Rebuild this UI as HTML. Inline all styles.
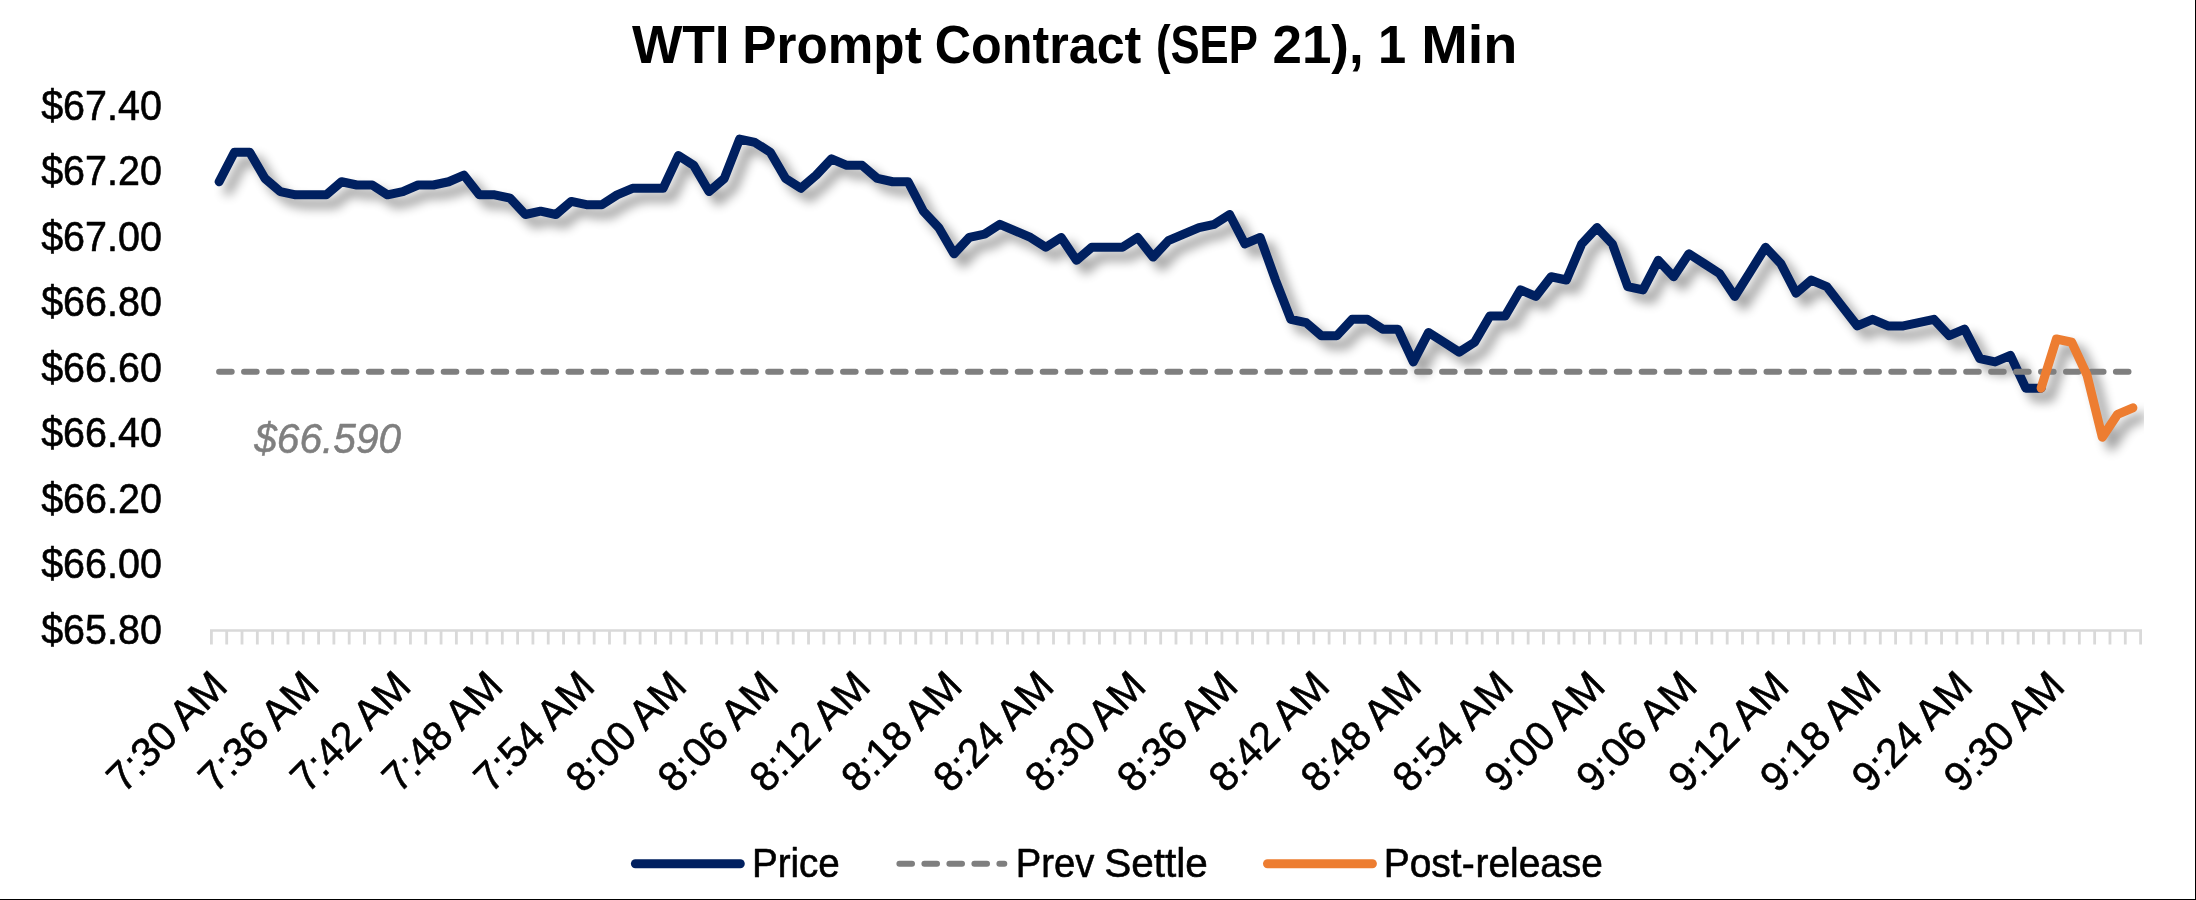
<!DOCTYPE html>
<html><head><meta charset="utf-8">
<style>
html,body{margin:0;padding:0;background:#fff;}
body{width:2196px;height:900px;overflow:hidden;position:relative;}
svg{position:absolute;left:0;top:0;display:block;will-change:transform;}
text{font-family:"Liberation Sans",sans-serif;fill:#000;}
.lab,.leg,.xl{stroke:#000;stroke-width:0.6px;stroke-linejoin:round;}
.ann{stroke:#7f7f7f;stroke-width:0.5px;stroke-linejoin:round;}
.lab{font-size:42.1px;}
.xl{font-size:41.5px;}
.title{font-size:53.6px;font-weight:bold;}
.leg{font-size:40.6px;}
.ann{font-size:42.1px;font-style:italic;fill:#7f7f7f;}
</style></head>
<body>
<svg width="2196" height="900" viewBox="0 0 2196 900">
<defs>
<filter id="sh" filterUnits="userSpaceOnUse" x="0" y="0" width="2196" height="900" color-interpolation-filters="sRGB">
<feGaussianBlur in="SourceAlpha" stdDeviation="5.5" result="b"/>
<feOffset in="b" dx="8.5" dy="8.5" result="o"/>
<feComponentTransfer in="o"><feFuncA type="linear" slope="0.4"/></feComponentTransfer>
</filter>
<clipPath id="plot"><rect x="200" y="80" width="1944" height="560"/></clipPath>
</defs>
<rect x="0" y="0" width="2196" height="900" fill="#fff"/>
<text x="41.13" y="119.5" class="lab" textLength="120.71" lengthAdjust="spacingAndGlyphs">$67.40</text>
<text x="41.13" y="185.0" class="lab" textLength="120.71" lengthAdjust="spacingAndGlyphs">$67.20</text>
<text x="41.13" y="250.5" class="lab" textLength="120.71" lengthAdjust="spacingAndGlyphs">$67.00</text>
<text x="41.13" y="316.1" class="lab" textLength="120.71" lengthAdjust="spacingAndGlyphs">$66.80</text>
<text x="41.13" y="381.6" class="lab" textLength="120.71" lengthAdjust="spacingAndGlyphs">$66.60</text>
<text x="41.13" y="447.1" class="lab" textLength="120.71" lengthAdjust="spacingAndGlyphs">$66.40</text>
<text x="41.13" y="512.6" class="lab" textLength="120.71" lengthAdjust="spacingAndGlyphs">$66.20</text>
<text x="41.13" y="578.1" class="lab" textLength="120.71" lengthAdjust="spacingAndGlyphs">$66.00</text>
<text x="41.13" y="643.7" class="lab" textLength="120.71" lengthAdjust="spacingAndGlyphs">$65.80</text>
<text x="631.90" y="63.1" class="title" textLength="97.80" lengthAdjust="spacingAndGlyphs">WTI</text>
<text x="742.35" y="63.1" class="title" textLength="179.40" lengthAdjust="spacingAndGlyphs">Prompt</text>
<text x="934.79" y="63.1" class="title" textLength="206.57" lengthAdjust="spacingAndGlyphs">Contract</text>
<text x="1155.96" y="63.1" class="title" textLength="101.84" lengthAdjust="spacingAndGlyphs">(SEP</text>
<text x="1272.47" y="63.1" class="title" textLength="91.19" lengthAdjust="spacingAndGlyphs">21),</text>
<text x="1377.99" y="63.1" class="title" textLength="28.19" lengthAdjust="spacingAndGlyphs">1</text>
<text x="1421.15" y="63.1" class="title" textLength="96.27" lengthAdjust="spacingAndGlyphs">Min</text>
<text x="254.24" y="453.4" class="ann" textLength="146.97" lengthAdjust="spacingAndGlyphs">$66.590</text>
<text x="751.91" y="876.8" class="leg" textLength="87.91" lengthAdjust="spacingAndGlyphs">Price</text>
<text x="1015.74" y="876.8" class="leg" textLength="78.64" lengthAdjust="spacingAndGlyphs">Prev</text>
<text x="1104.21" y="876.8" class="leg" textLength="103.45" lengthAdjust="spacingAndGlyphs">Settle</text>
<text x="1383.68" y="876.8" class="leg" textLength="90.97" lengthAdjust="spacingAndGlyphs">Post-</text>
<text x="1475.57" y="876.8" class="leg" textLength="127.29" lengthAdjust="spacingAndGlyphs">release</text>
<path d="M210.0 630.5 H2142.0" stroke="#d9d9d9" stroke-width="2.7" fill="none"/>
<path d="M211.40 630.5 V644.4 M226.71 630.5 V644.4 M242.02 630.5 V644.4 M257.33 630.5 V644.4 M272.64 630.5 V644.4 M287.96 630.5 V644.4 M303.27 630.5 V644.4 M318.58 630.5 V644.4 M333.89 630.5 V644.4 M349.20 630.5 V644.4 M364.51 630.5 V644.4 M379.82 630.5 V644.4 M395.13 630.5 V644.4 M410.44 630.5 V644.4 M425.75 630.5 V644.4 M441.06 630.5 V644.4 M456.38 630.5 V644.4 M471.69 630.5 V644.4 M487.00 630.5 V644.4 M502.31 630.5 V644.4 M517.62 630.5 V644.4 M532.93 630.5 V644.4 M548.24 630.5 V644.4 M563.55 630.5 V644.4 M578.86 630.5 V644.4 M594.17 630.5 V644.4 M609.49 630.5 V644.4 M624.80 630.5 V644.4 M640.11 630.5 V644.4 M655.42 630.5 V644.4 M670.73 630.5 V644.4 M686.04 630.5 V644.4 M701.35 630.5 V644.4 M716.66 630.5 V644.4 M731.97 630.5 V644.4 M747.28 630.5 V644.4 M762.60 630.5 V644.4 M777.91 630.5 V644.4 M793.22 630.5 V644.4 M808.53 630.5 V644.4 M823.84 630.5 V644.4 M839.15 630.5 V644.4 M854.46 630.5 V644.4 M869.77 630.5 V644.4 M885.08 630.5 V644.4 M900.39 630.5 V644.4 M915.71 630.5 V644.4 M931.02 630.5 V644.4 M946.33 630.5 V644.4 M961.64 630.5 V644.4 M976.95 630.5 V644.4 M992.26 630.5 V644.4 M1007.57 630.5 V644.4 M1022.88 630.5 V644.4 M1038.19 630.5 V644.4 M1053.51 630.5 V644.4 M1068.82 630.5 V644.4 M1084.13 630.5 V644.4 M1099.44 630.5 V644.4 M1114.75 630.5 V644.4 M1130.06 630.5 V644.4 M1145.37 630.5 V644.4 M1160.68 630.5 V644.4 M1175.99 630.5 V644.4 M1191.30 630.5 V644.4 M1206.62 630.5 V644.4 M1221.93 630.5 V644.4 M1237.24 630.5 V644.4 M1252.55 630.5 V644.4 M1267.86 630.5 V644.4 M1283.17 630.5 V644.4 M1298.48 630.5 V644.4 M1313.79 630.5 V644.4 M1329.10 630.5 V644.4 M1344.41 630.5 V644.4 M1359.73 630.5 V644.4 M1375.04 630.5 V644.4 M1390.35 630.5 V644.4 M1405.66 630.5 V644.4 M1420.97 630.5 V644.4 M1436.28 630.5 V644.4 M1451.59 630.5 V644.4 M1466.90 630.5 V644.4 M1482.21 630.5 V644.4 M1497.52 630.5 V644.4 M1512.84 630.5 V644.4 M1528.15 630.5 V644.4 M1543.46 630.5 V644.4 M1558.77 630.5 V644.4 M1574.08 630.5 V644.4 M1589.39 630.5 V644.4 M1604.70 630.5 V644.4 M1620.01 630.5 V644.4 M1635.32 630.5 V644.4 M1650.63 630.5 V644.4 M1665.95 630.5 V644.4 M1681.26 630.5 V644.4 M1696.57 630.5 V644.4 M1711.88 630.5 V644.4 M1727.19 630.5 V644.4 M1742.50 630.5 V644.4 M1757.81 630.5 V644.4 M1773.12 630.5 V644.4 M1788.43 630.5 V644.4 M1803.74 630.5 V644.4 M1819.06 630.5 V644.4 M1834.37 630.5 V644.4 M1849.68 630.5 V644.4 M1864.99 630.5 V644.4 M1880.30 630.5 V644.4 M1895.61 630.5 V644.4 M1910.92 630.5 V644.4 M1926.23 630.5 V644.4 M1941.54 630.5 V644.4 M1956.85 630.5 V644.4 M1972.17 630.5 V644.4 M1987.48 630.5 V644.4 M2002.79 630.5 V644.4 M2018.10 630.5 V644.4 M2033.41 630.5 V644.4 M2048.72 630.5 V644.4 M2064.03 630.5 V644.4 M2079.34 630.5 V644.4 M2094.65 630.5 V644.4 M2109.96 630.5 V644.4 M2125.28 630.5 V644.4 M2140.59 630.5 V644.4" stroke="#d9d9d9" stroke-width="2.8" fill="none"/>
<text transform="translate(229.4 688.5) rotate(-45)" class="xl" text-anchor="end" textLength="149.5" lengthAdjust="spacingAndGlyphs">7:30 AM</text>
<text transform="translate(321.2 688.5) rotate(-45)" class="xl" text-anchor="end" textLength="149.5" lengthAdjust="spacingAndGlyphs">7:36 AM</text>
<text transform="translate(413.1 688.5) rotate(-45)" class="xl" text-anchor="end" textLength="149.5" lengthAdjust="spacingAndGlyphs">7:42 AM</text>
<text transform="translate(505.0 688.5) rotate(-45)" class="xl" text-anchor="end" textLength="149.5" lengthAdjust="spacingAndGlyphs">7:48 AM</text>
<text transform="translate(596.8 688.5) rotate(-45)" class="xl" text-anchor="end" textLength="149.5" lengthAdjust="spacingAndGlyphs">7:54 AM</text>
<text transform="translate(688.7 688.5) rotate(-45)" class="xl" text-anchor="end" textLength="149.5" lengthAdjust="spacingAndGlyphs">8:00 AM</text>
<text transform="translate(780.6 688.5) rotate(-45)" class="xl" text-anchor="end" textLength="149.5" lengthAdjust="spacingAndGlyphs">8:06 AM</text>
<text transform="translate(872.4 688.5) rotate(-45)" class="xl" text-anchor="end" textLength="149.5" lengthAdjust="spacingAndGlyphs">8:12 AM</text>
<text transform="translate(964.3 688.5) rotate(-45)" class="xl" text-anchor="end" textLength="149.5" lengthAdjust="spacingAndGlyphs">8:18 AM</text>
<text transform="translate(1056.1 688.5) rotate(-45)" class="xl" text-anchor="end" textLength="149.5" lengthAdjust="spacingAndGlyphs">8:24 AM</text>
<text transform="translate(1148.0 688.5) rotate(-45)" class="xl" text-anchor="end" textLength="149.5" lengthAdjust="spacingAndGlyphs">8:30 AM</text>
<text transform="translate(1239.9 688.5) rotate(-45)" class="xl" text-anchor="end" textLength="149.5" lengthAdjust="spacingAndGlyphs">8:36 AM</text>
<text transform="translate(1331.7 688.5) rotate(-45)" class="xl" text-anchor="end" textLength="149.5" lengthAdjust="spacingAndGlyphs">8:42 AM</text>
<text transform="translate(1423.6 688.5) rotate(-45)" class="xl" text-anchor="end" textLength="149.5" lengthAdjust="spacingAndGlyphs">8:48 AM</text>
<text transform="translate(1515.5 688.5) rotate(-45)" class="xl" text-anchor="end" textLength="149.5" lengthAdjust="spacingAndGlyphs">8:54 AM</text>
<text transform="translate(1607.3 688.5) rotate(-45)" class="xl" text-anchor="end" textLength="149.5" lengthAdjust="spacingAndGlyphs">9:00 AM</text>
<text transform="translate(1699.2 688.5) rotate(-45)" class="xl" text-anchor="end" textLength="149.5" lengthAdjust="spacingAndGlyphs">9:06 AM</text>
<text transform="translate(1791.1 688.5) rotate(-45)" class="xl" text-anchor="end" textLength="149.5" lengthAdjust="spacingAndGlyphs">9:12 AM</text>
<text transform="translate(1882.9 688.5) rotate(-45)" class="xl" text-anchor="end" textLength="149.5" lengthAdjust="spacingAndGlyphs">9:18 AM</text>
<text transform="translate(1974.8 688.5) rotate(-45)" class="xl" text-anchor="end" textLength="149.5" lengthAdjust="spacingAndGlyphs">9:24 AM</text>
<text transform="translate(2066.7 688.5) rotate(-45)" class="xl" text-anchor="end" textLength="149.5" lengthAdjust="spacingAndGlyphs">9:30 AM</text>

<g clip-path="url(#plot)"><g filter="url(#sh)">
<path d="M219.1 181.74 L234.4 152.25 L249.7 152.25 L265.0 178.46 L280.3 191.57 L295.6 194.84 L310.9 194.84 L326.2 194.84 L341.5 181.74 L356.9 185.01 L372.2 185.01 L387.5 194.84 L402.8 191.57 L418.1 185.01 L433.4 185.01 L448.7 181.74 L464.0 175.19 L479.3 194.84 L494.7 194.84 L510.0 198.12 L525.3 214.50 L540.6 211.22 L555.9 214.50 L571.2 201.39 L586.5 204.67 L601.8 204.67 L617.1 194.84 L632.5 188.29 L647.8 188.29 L663.1 188.29 L678.4 155.53 L693.7 165.36 L709.0 191.57 L724.3 178.46 L739.6 139.15 L754.9 142.43 L770.3 152.25 L785.6 178.46 L800.9 188.29 L816.2 175.19 L831.5 158.81 L846.8 165.36 L862.1 165.36 L877.4 178.46 L892.7 181.74 L908.1 181.74 L923.4 211.22 L938.7 227.60 L954.0 253.81 L969.3 237.43 L984.6 234.15 L999.9 224.33 L1015.2 230.88 L1030.5 237.43 L1045.8 247.26 L1061.2 237.43 L1076.5 260.36 L1091.8 247.26 L1107.1 247.26 L1122.4 247.26 L1137.7 237.43 L1153.0 257.09 L1168.3 240.71 L1183.6 234.15 L1199.0 227.60 L1214.3 224.33 L1229.6 214.50 L1244.9 243.98 L1260.2 237.43 L1275.5 280.02 L1290.8 319.33 L1306.1 322.61 L1321.4 335.71 L1336.8 335.71 L1352.1 319.33 L1367.4 319.33 L1382.7 329.16 L1398.0 329.16 L1413.3 361.92 L1428.6 332.43 L1443.9 342.26 L1459.2 352.09 L1474.6 342.26 L1489.9 316.05 L1505.2 316.05 L1520.5 289.85 L1535.8 296.40 L1551.1 276.74 L1566.4 280.02 L1581.7 243.98 L1597.0 227.60 L1612.4 243.98 L1627.7 286.57 L1643.0 289.85 L1658.3 260.36 L1673.6 276.74 L1688.9 253.81 L1704.2 263.64 L1719.5 273.47 L1734.8 296.40 L1750.2 271.83 L1765.5 247.26 L1780.8 263.64 L1796.1 293.12 L1811.4 280.02 L1826.7 286.57 L1842.0 306.23 L1857.3 325.88 L1872.6 319.33 L1888.0 325.88 L1903.3 325.88 L1918.6 322.61 L1933.9 319.33 L1949.2 335.71 L1964.5 329.16 L1979.8 358.64 L1995.1 361.92 L2010.4 355.37 L2025.8 388.13 L2041.1 388.13" stroke="#000" stroke-width="9" stroke-linecap="round" stroke-linejoin="round" fill="none"/>
<path d="M2041.1 388.13 L2056.4 338.99 L2071.7 342.26 L2087.0 375.02 L2102.3 437.27 L2117.6 414.33 L2132.9 407.78" stroke="#000" stroke-width="9" stroke-linecap="round" stroke-linejoin="round" fill="none"/>
</g></g>
<path d="M219.1 181.74 L234.4 152.25 L249.7 152.25 L265.0 178.46 L280.3 191.57 L295.6 194.84 L310.9 194.84 L326.2 194.84 L341.5 181.74 L356.9 185.01 L372.2 185.01 L387.5 194.84 L402.8 191.57 L418.1 185.01 L433.4 185.01 L448.7 181.74 L464.0 175.19 L479.3 194.84 L494.7 194.84 L510.0 198.12 L525.3 214.50 L540.6 211.22 L555.9 214.50 L571.2 201.39 L586.5 204.67 L601.8 204.67 L617.1 194.84 L632.5 188.29 L647.8 188.29 L663.1 188.29 L678.4 155.53 L693.7 165.36 L709.0 191.57 L724.3 178.46 L739.6 139.15 L754.9 142.43 L770.3 152.25 L785.6 178.46 L800.9 188.29 L816.2 175.19 L831.5 158.81 L846.8 165.36 L862.1 165.36 L877.4 178.46 L892.7 181.74 L908.1 181.74 L923.4 211.22 L938.7 227.60 L954.0 253.81 L969.3 237.43 L984.6 234.15 L999.9 224.33 L1015.2 230.88 L1030.5 237.43 L1045.8 247.26 L1061.2 237.43 L1076.5 260.36 L1091.8 247.26 L1107.1 247.26 L1122.4 247.26 L1137.7 237.43 L1153.0 257.09 L1168.3 240.71 L1183.6 234.15 L1199.0 227.60 L1214.3 224.33 L1229.6 214.50 L1244.9 243.98 L1260.2 237.43 L1275.5 280.02 L1290.8 319.33 L1306.1 322.61 L1321.4 335.71 L1336.8 335.71 L1352.1 319.33 L1367.4 319.33 L1382.7 329.16 L1398.0 329.16 L1413.3 361.92 L1428.6 332.43 L1443.9 342.26 L1459.2 352.09 L1474.6 342.26 L1489.9 316.05 L1505.2 316.05 L1520.5 289.85 L1535.8 296.40 L1551.1 276.74 L1566.4 280.02 L1581.7 243.98 L1597.0 227.60 L1612.4 243.98 L1627.7 286.57 L1643.0 289.85 L1658.3 260.36 L1673.6 276.74 L1688.9 253.81 L1704.2 263.64 L1719.5 273.47 L1734.8 296.40 L1750.2 271.83 L1765.5 247.26 L1780.8 263.64 L1796.1 293.12 L1811.4 280.02 L1826.7 286.57 L1842.0 306.23 L1857.3 325.88 L1872.6 319.33 L1888.0 325.88 L1903.3 325.88 L1918.6 322.61 L1933.9 319.33 L1949.2 335.71 L1964.5 329.16 L1979.8 358.64 L1995.1 361.92 L2010.4 355.37 L2025.8 388.13 L2041.1 388.13" stroke="#002060" stroke-width="9" stroke-linecap="round" stroke-linejoin="round" fill="none"/>
<path d="M219.1 371.75 H2132.9" stroke="#7f7f7f" stroke-width="6" stroke-linecap="round" stroke-dasharray="12.6 12.358" fill="none"/>
<path d="M2041.1 388.13 L2056.4 338.99 L2071.7 342.26 L2087.0 375.02 L2102.3 437.27 L2117.6 414.33 L2132.9 407.78" stroke="#ed7d31" stroke-width="9" stroke-linecap="round" stroke-linejoin="round" fill="none"/>
<path d="M635.4 863.7 H740.3" stroke="#002060" stroke-width="9" stroke-linecap="round" fill="none"/>
<path d="M899.4 863.7 H1004.3" stroke="#7f7f7f" stroke-width="6" stroke-linecap="round" stroke-dasharray="12.6 12.4" fill="none"/>
<path d="M1267.5 863.7 H1372.4" stroke="#ed7d31" stroke-width="9" stroke-linecap="round" fill="none"/>
<rect x="2195" y="0" width="1" height="900" fill="#000"/>
<rect x="0" y="899" width="2196" height="1" fill="#000"/>
</svg>
</body></html>
